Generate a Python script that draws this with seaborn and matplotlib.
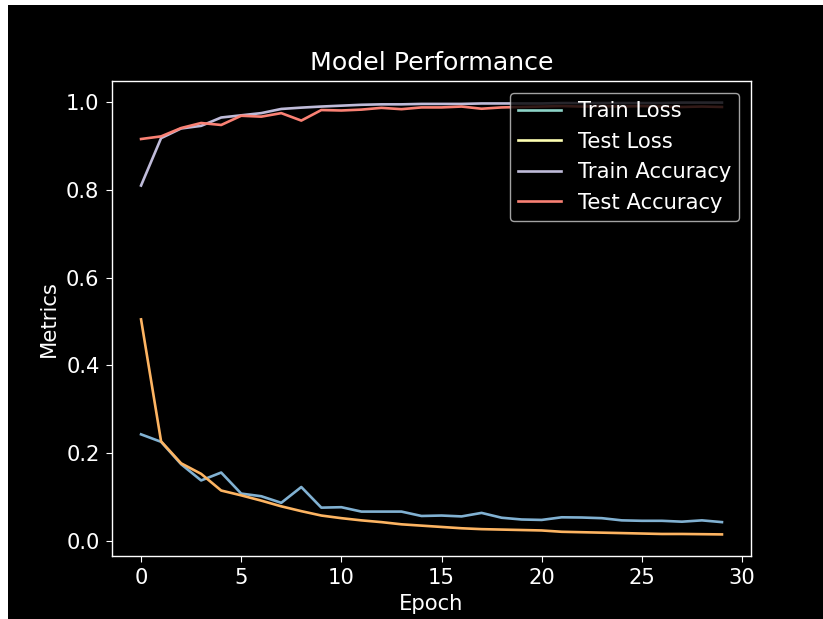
import matplotlib
matplotlib.use("Agg")
import matplotlib.pyplot as plt
from matplotlib.lines import Line2D
from matplotlib.patches import Rectangle
import seaborn as sns
import pandas as pd

# Training history per epoch
epochs = list(range(30))
train_loss = [0.505, 0.227, 0.177, 0.153, 0.115, 0.104, 0.092, 0.079, 0.068, 0.058,
              0.052, 0.047, 0.043, 0.038, 0.035, 0.032, 0.029, 0.027, 0.026, 0.025,
              0.024, 0.021, 0.020, 0.019, 0.018, 0.017, 0.016, 0.016, 0.0155, 0.015]
test_loss = [0.243, 0.226, 0.175, 0.138, 0.156, 0.108, 0.102, 0.087, 0.123, 0.076,
             0.077, 0.067, 0.067, 0.067, 0.057, 0.058, 0.056, 0.064, 0.053, 0.049,
             0.048, 0.054, 0.0535, 0.052, 0.047, 0.046, 0.046, 0.044, 0.047, 0.043]
train_acc = [0.810, 0.918, 0.940, 0.946, 0.965, 0.970, 0.975, 0.9845, 0.9875, 0.990,
             0.992, 0.994, 0.995, 0.995, 0.996, 0.996, 0.996, 0.997, 0.997, 0.997,
             0.997, 0.998, 0.998, 0.998, 0.998, 0.998, 0.998, 0.999, 0.999, 0.999]
test_acc = [0.916, 0.922, 0.941, 0.9525, 0.948, 0.969, 0.967, 0.975, 0.958, 0.982,
            0.981, 0.983, 0.987, 0.984, 0.988, 0.988, 0.990, 0.985, 0.988, 0.989,
            0.990, 0.991, 0.990, 0.991, 0.990, 0.991, 0.990, 0.989, 0.990, 0.989]
legend_labels = ["Train Loss", "Test Loss", "Train Accuracy", "Test Accuracy"]

df = pd.DataFrame({
    "epoch": epochs,
    "train_loss": train_loss,
    "test_loss": test_loss,
    "train_acc": train_acc,
    "test_acc": test_acc,
})

plt.style.use("dark_background")
plt.rcParams.update({
    "font.size": 15.2,
    "axes.titlesize": 18.2,
    "axes.labelsize": 15.2,
    "xtick.labelsize": 15.2,
    "ytick.labelsize": 15.2,
    "legend.fontsize": 15.2,
    "lines.linewidth": 1.9,
    "axes.linewidth": 1.0,
    "xtick.major.size": 4.5,
    "ytick.major.size": 4.5,
})

W, H = 823, 619
fig = plt.figure(figsize=(W / 100, H / 100), dpi=100, facecolor="black")
ax = fig.add_axes([112 / W, (H - 556) / H, (751 - 112) / W, (556 - 81) / H])
ax.set_facecolor("black")

# Legend colours follow the style cycle; the curves use their own colours
handle_colors = ["#8dd3c7", "#feffb3", "#bfbbd9", "#fa8174"]

sns.lineplot(data=df, x="epoch", y="train_acc", color="#bfbbd9", ax=ax, linewidth=1.9)
sns.lineplot(data=df, x="epoch", y="test_acc", color="#fa8174", ax=ax, linewidth=1.9)
sns.lineplot(data=df, x="epoch", y="test_loss", color="#81b1d2", ax=ax, linewidth=1.9)
sns.lineplot(data=df, x="epoch", y="train_loss", color="#fdb462", ax=ax, linewidth=1.9)

ax.set_xticks([0, 5, 10, 15, 20, 25, 30])
ax.set_yticks([0.0, 0.2, 0.4, 0.6, 0.8, 1.0])
ax.tick_params(pad=4.5)
ax.set_xlabel("Epoch", labelpad=4)
ax.set_ylabel("Metrics", labelpad=5)
ax.set_title("Model Performance", pad=8)

handles = [Line2D([0], [0], color=c, linewidth=1.9) for c in handle_colors]
ax.legend(handles, legend_labels, loc="upper right", framealpha=0.8,
          facecolor="black", edgecolor="#cccccc", borderaxespad=0.55)

# light margin along the left and top edges
fig.patches.append(Rectangle((0, 0), 8 / W, 1, transform=fig.transFigure,
                             facecolor="white", edgecolor="none", zorder=10))
fig.patches.append(Rectangle((0, 1 - 5 / H), 1, 5 / H, transform=fig.transFigure,
                             facecolor="white", edgecolor="none", zorder=10))

fig.savefig("out.png", dpi=100, facecolor="black")
